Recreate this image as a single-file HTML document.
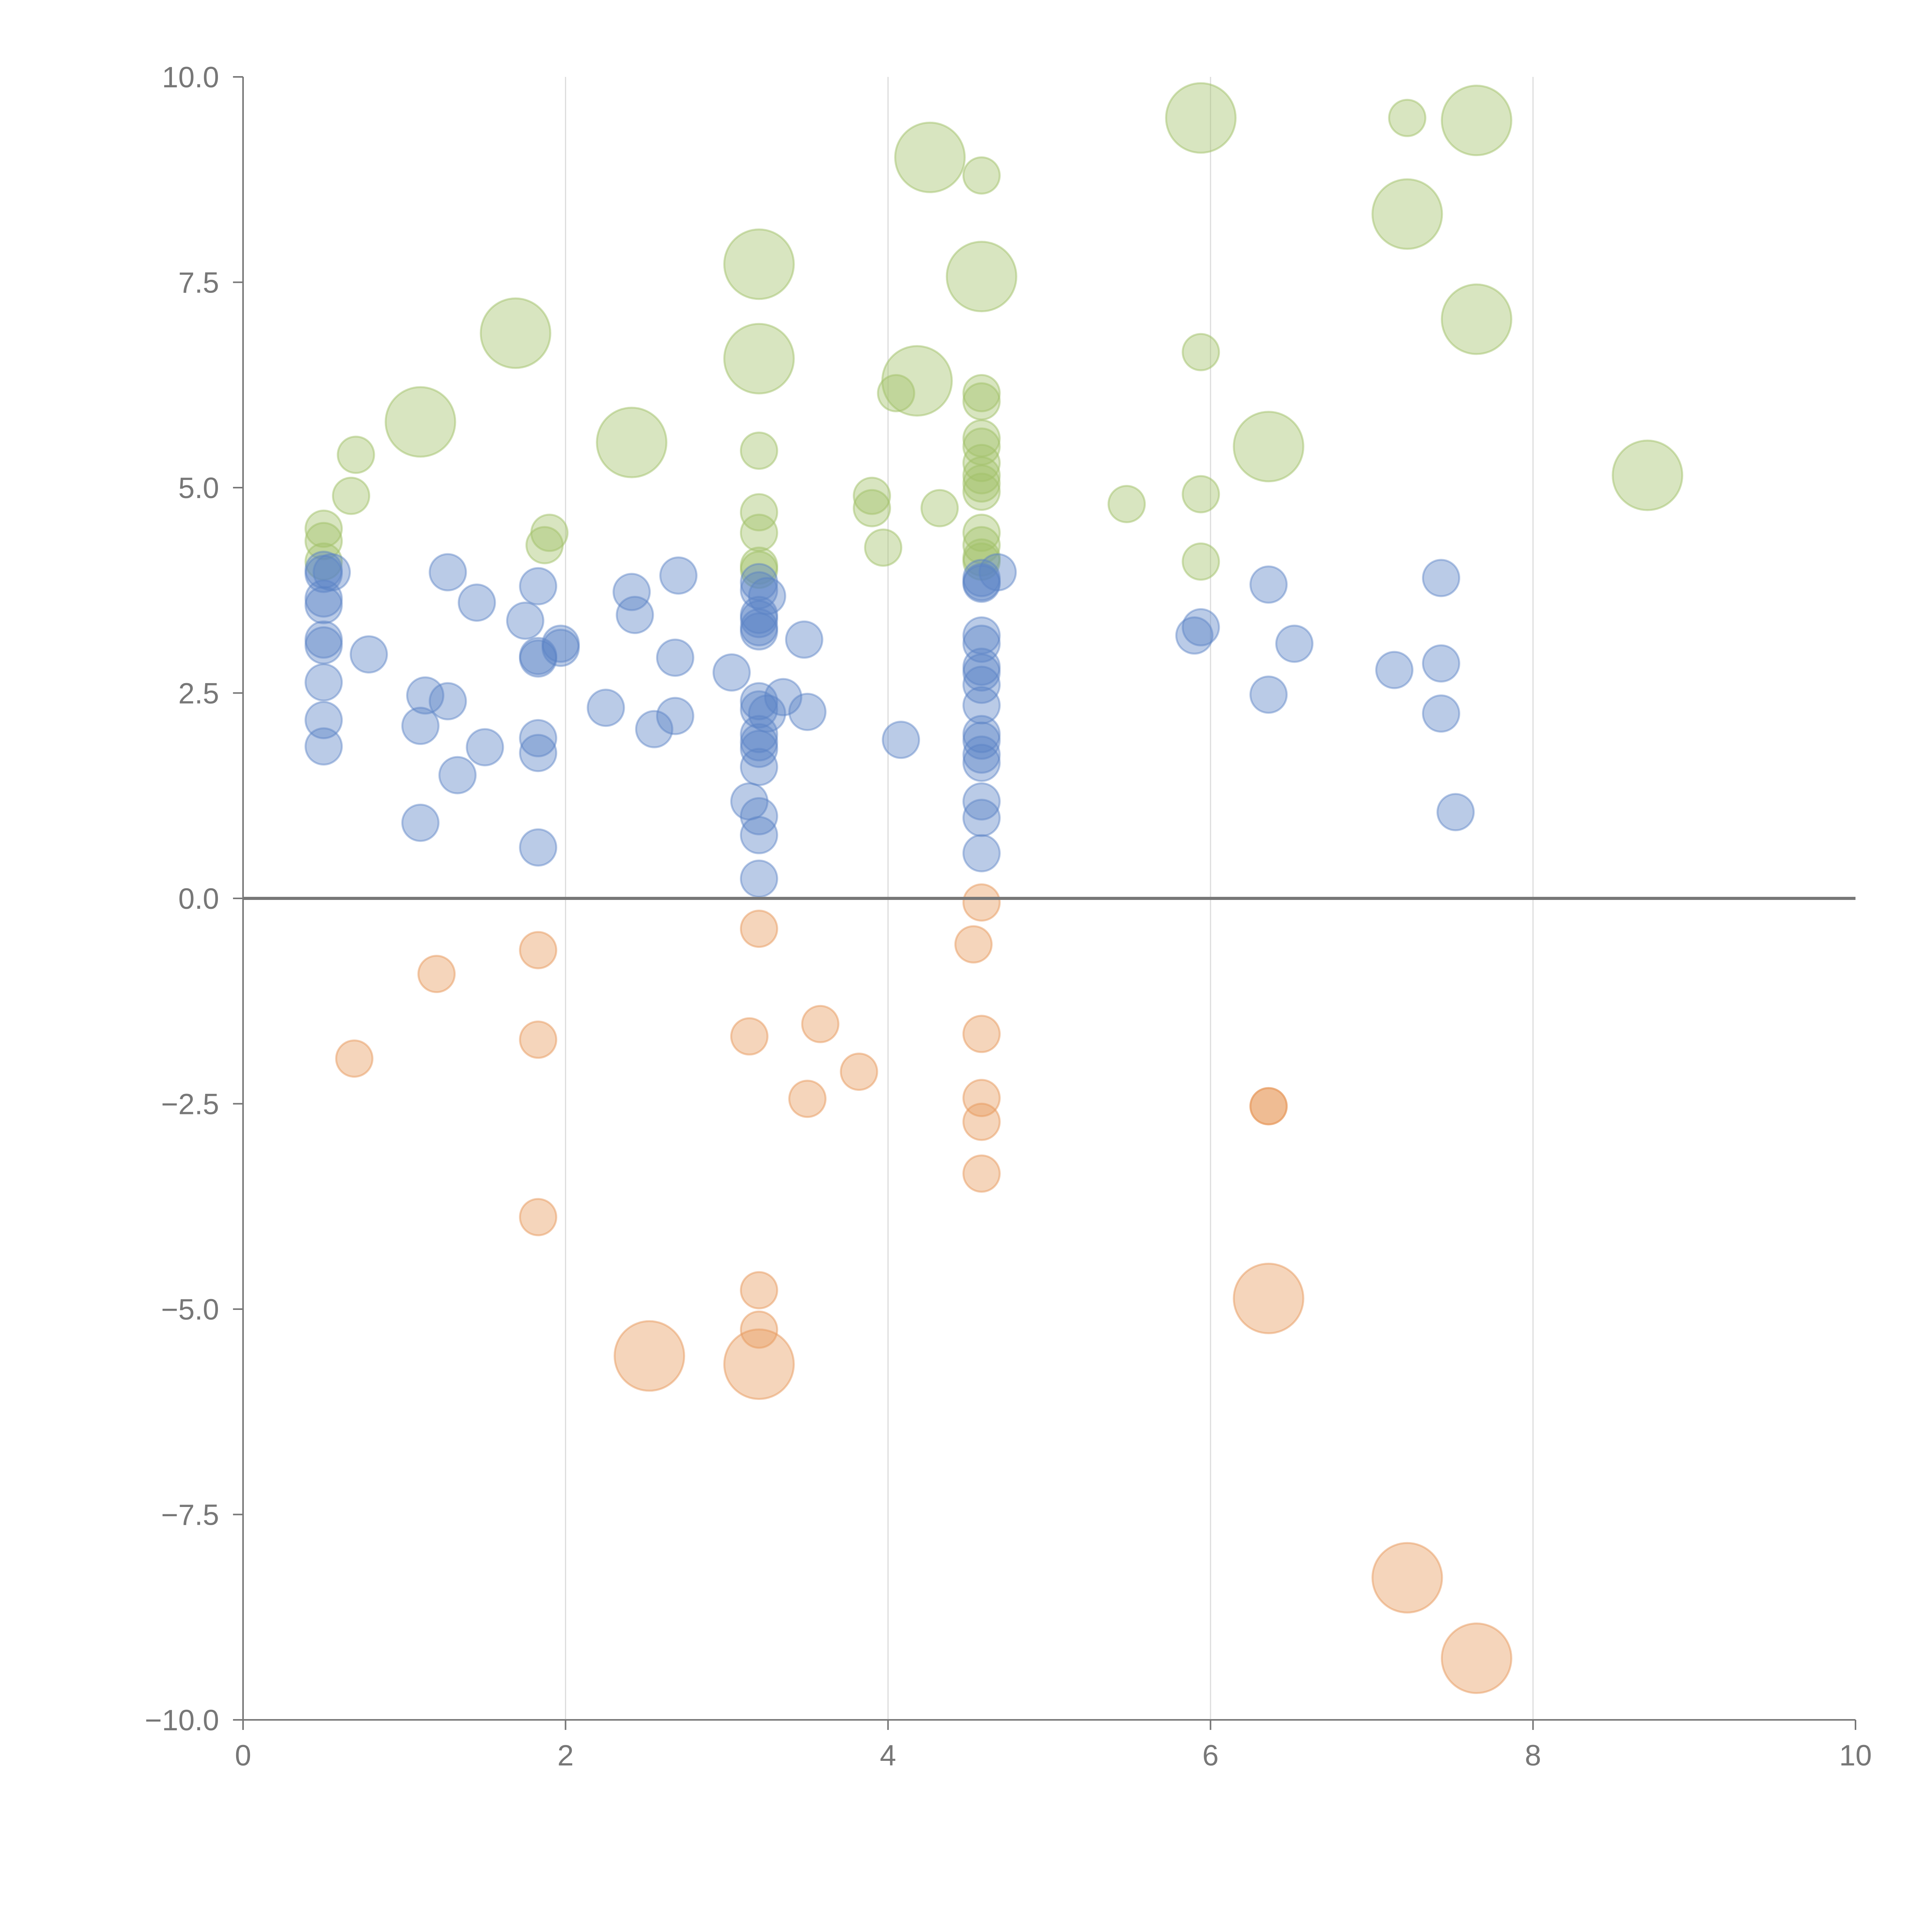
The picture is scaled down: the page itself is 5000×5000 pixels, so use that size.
<!DOCTYPE html>
<html><head><meta charset="utf-8"><style>html,body{margin:0;padding:0;background:#fff}svg{display:block}</style></head>
<body>
<svg id="chart" xmlns="http://www.w3.org/2000/svg" width="5000" height="5000" viewBox="0 0 5000 5000">
<rect width="5000" height="5000" fill="#fff"/>
<g id="grid"></g>
<g id="marks"></g>
<g id="axes"></g>
</svg>
<script>
const xTicks = [0, 2, 4, 6, 8, 10];
const yTicks = [10, 7.5, 5, 2.5, 0, -2.5, -5, -7.5, -10];
const yTickLabels = ["10.0", "7.5", "5.0", "2.5", "0.0", "\u22122.5", "\u22125.0", "\u22127.5", "\u221210.0"];
const greenX = [0.5,0.5,0.5,0.7,0.67,1.87,1.9,3.2,3.2,3.2,3.2,3.2,4.05,3.9,3.9,3.97,4.32,4.58,4.58,4.58,4.58,4.58,4.58,4.58,4.58,4.58,4.58,4.58,4.58,4.58,5.48,5.94,5.94,5.94,7.22,1.1,1.69,2.41,3.2,3.2,4.18,4.26,4.58,5.94,6.36,7.22,7.65,7.65,8.71];
const greenY = [4.5,4.35,4.1,5.4,4.9,4.3,4.45,5.45,4.7,4.45,4.05,4.0,6.15,4.9,4.75,4.27,4.75,8.8,6.15,6.05,5.6,5.5,5.3,5.15,5.05,4.95,4.45,4.3,4.15,4.1,4.8,6.65,4.92,4.1,9.5,5.8,6.88,5.55,7.72,6.57,6.3,9.02,7.57,9.5,5.5,8.33,9.47,7.05,5.15];
const greenS = [1,1,1,1,1,1,1,1,1,1,1,1,1,1,1,1,1,1,1,1,1,1,1,1,1,1,1,1,1,1,1,1,1,1,1,2,2,2,2,2,2,2,2,2,2,2,2,2,2];
const blueX = [0.5,0.5,0.55,0.5,0.5,0.5,0.5,0.5,0.5,0.5,0.78,1.1,1.13,1.27,1.27,1.1,1.33,1.45,1.5,1.75,1.83,1.83,1.83,1.83,1.83,1.83,1.97,1.97,2.25,2.41,2.43,2.55,2.68,2.7,2.68,3.03,3.14,3.2,3.2,3.2,3.2,3.2,3.2,3.2,3.2,3.2,3.25,3.2,3.2,3.25,3.2,3.2,3.2,3.2,3.35,3.48,3.5,4.08,4.58,4.58,4.58,4.68,4.58,4.58,4.58,4.58,4.58,4.58,4.58,4.58,4.58,4.58,4.58,4.58,4.58,5.9,5.94,6.36,6.36,6.52,7.14,7.43,7.43,7.43,7.52];
const blueY = [4.0,3.95,3.97,3.65,3.57,3.15,3.08,2.63,2.17,1.85,2.97,2.1,2.47,2.4,3.97,0.92,1.5,3.6,1.84,3.38,3.8,2.95,2.92,1.95,1.77,0.62,3.1,3.05,2.32,3.73,3.45,2.06,2.93,3.93,2.22,2.75,1.18,1.0,0.77,0.24,3.85,3.75,3.45,3.4,3.3,3.25,3.68,2.4,2.3,2.25,2.0,1.9,1.82,1.6,2.45,3.15,2.27,1.93,3.9,3.85,3.83,3.97,3.2,3.1,2.82,2.75,2.6,2.35,2.0,1.92,1.75,1.65,1.18,0.98,0.55,3.2,3.3,3.82,2.48,3.1,2.78,3.9,2.86,2.25,1.05];
const orangeX = [0.69,1.2,1.83,1.83,1.83,3.2,3.14,3.58,3.5,3.82,4.58,4.53,4.58,4.58,4.58,4.58,6.36,6.36,3.2,3.2,2.52,3.2,6.36,7.22,7.65];
const orangeY = [-1.95,-0.92,-0.63,-1.72,-3.88,-0.37,-1.68,-1.53,-2.44,-2.11,-0.05,-0.56,-1.65,-2.43,-2.72,-3.35,-2.53,-2.53,-4.77,-5.25,-5.57,-5.67,-4.87,-8.27,-9.25];
const orangeS = [1,1,1,1,1,1,1,1,1,1,1,1,1,1,1,1,1,1,1,1,2,2,2,2,2];

const X0=629, X1=4802, Y0=4451, Y1=199;
const xs = v => X0 + (v-0)/(10-0)*(X1-X0);
const ys = v => Y0 - (v+10)/20*(Y0-Y1);
const rs = s => s===1 ? 47 : 90;
const NS="http://www.w3.org/2000/svg";
function mk(tag, parent, attrs){const e=document.createElementNS(NS,tag);for(const k in attrs)e.setAttribute(k,attrs[k]);parent.appendChild(e);return e;}
const grid=document.getElementById('grid'), marks=document.getElementById('marks'), axes=document.getElementById('axes');

xTicks.forEach(t=>{ if(t===0||t===10) return;
  const l=mk('line',grid,{x1:xs(t),x2:xs(t),y1:Y1,y2:Y0,stroke:'#dcdcdc','stroke-width':3});
  
  
});

function series(X,Y,S,color,name,so){
  X.forEach((x,i)=>{
    const c=mk('circle',marks,{cx:xs(x),cy:ys(Y[i]),r:rs(S?S[i]:1),fill:color,'fill-opacity':0.42,stroke:color,'stroke-opacity':so,'stroke-width':5});
    
    
  });
}
series(greenX,greenY,greenS,'#a2c26a','green-bubble',0.5);
series(blueX,blueY,null,'#5a82c6','blue-bubble',0.45);
series(orangeX,orangeY,orangeS,'#e89a5e','orange-bubble',0.5);

const zl=mk('line',axes,{x1:X0,x2:X1,y1:ys(0),y2:ys(0),stroke:'#777','stroke-width':8});


const ya=mk('line',axes,{x1:X0,x2:X0,y1:Y1,y2:Y0,stroke:'#777','stroke-width':4});


const xa=mk('line',axes,{x1:X0,x2:X1,y1:Y0,y2:Y0,stroke:'#777','stroke-width':4});



yTicks.forEach((t,i)=>{
  const tk=mk('line',axes,{x1:X0-26,x2:X0,y1:ys(t),y2:ys(t),stroke:'#777','stroke-width':4});
  
  
  const tx=mk('text',axes,{x:X0-62,y:ys(t)+27,'text-anchor':'end','font-family':'Liberation Sans, sans-serif','font-size':76,fill:'#777'});
  tx.textContent=yTickLabels[i];
  
  
});
xTicks.forEach(t=>{
  const tk=mk('line',axes,{x1:xs(t),x2:xs(t),y1:Y0,y2:Y0+26,stroke:'#777','stroke-width':4});
  
  
  const tx=mk('text',axes,{x:xs(t),y:Y0+118,'text-anchor':'middle','font-family':'Liberation Sans, sans-serif','font-size':76,fill:'#777'});
  tx.textContent=String(t);
  
  
});
</script>
</body></html>
